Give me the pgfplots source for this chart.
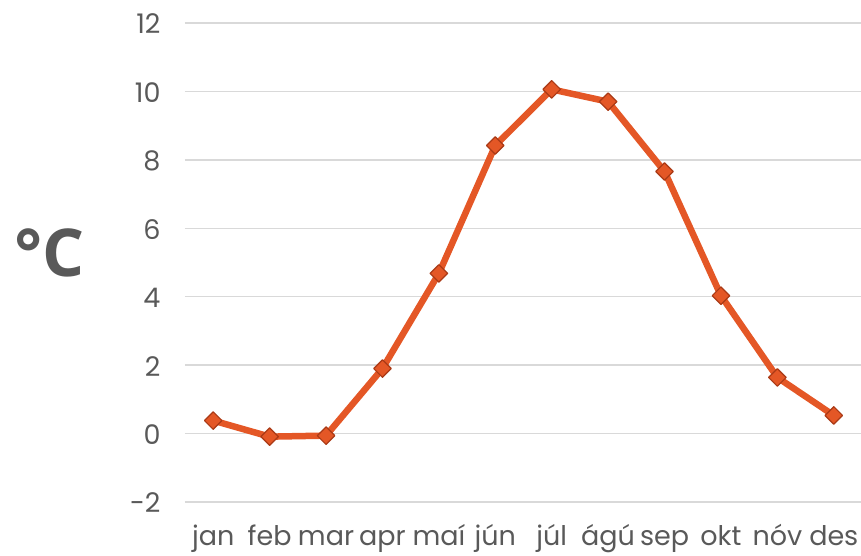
\documentclass[border=0pt]{standalone}
\usepackage{fontspec}
\setmainfont{Poppins}
\newfontfamily\labelfont{Open Sans}
\usepackage{pgfplots}
\pgfplotsset{compat=1.18}
\definecolor{LineOrange}{RGB}{228,87,38}
\definecolor{MarkEdge}{RGB}{170,58,22}
\definecolor{GridGray}{RGB}{217,217,217}
\definecolor{TextGray}{RGB}{89,89,89}
\begin{document}
\begin{tikzpicture}
\useasboundingbox (-185pt,-53pt) rectangle (676pt,502pt);
\begin{axis}[
    scale only axis,
    width=677pt, height=479pt,
    xmin=-0.5, xmax=11.5,
    ymin=-2, ymax=12,
    axis line style={draw=none},
    tick style={draw=none},
    ytick={-2,0,...,12},
    xtick={0,...,11},
    xticklabels={jan,feb,mar,apr,maí,jún,júl,ágú,sep,okt,nóv,des},
    ymajorgrids,
    major grid style={GridGray, line width=1.5pt},
    ticklabel style={font=\fontsize{27}{30}\selectfont, text=TextGray},
    /pgf/number format/assume math mode=true,
    yticklabel style={xshift=-21pt, yshift=-1pt},
    xticklabel style={anchor=base, yshift=-43pt},
    ylabel={°C},
    ylabel style={rotate=-90, font=\labelfont\bfseries\fontsize{66}{70}\selectfont,
      text=TextGray, at={(axis description cs:-0.2,0.52)}, anchor=center},
    clip=false,
]
\addplot[LineOrange, line width=6.5pt, line join=round,
    mark=square*, mark size=6.2pt,
    mark options={rotate=45, fill=LineOrange, draw=MarkEdge, line width=1.2pt}]
  coordinates {
    (0,0.38) (1,-0.09) (2,-0.06) (3,1.9) (4,4.68) (5,8.42)
    (6,10.06) (7,9.7) (8,7.66) (9,4.03) (10,1.64) (11,0.53)
  };
\end{axis}
\end{tikzpicture}
\end{document}
